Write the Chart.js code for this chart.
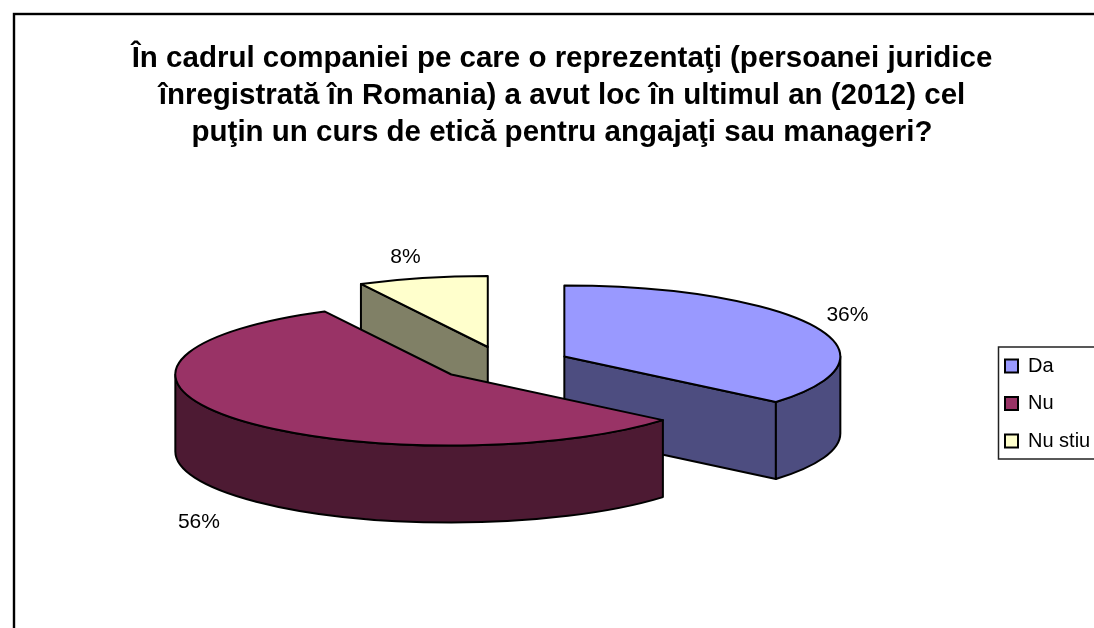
<!DOCTYPE html>
<html>
<head>
<meta charset="utf-8">
<style>html,body{margin:0;padding:0;background:#fff;overflow:hidden}canvas{display:block}</style>
<script src="https://cdn.jsdelivr.net/npm/chart.js@4"></script>
</head>
<body>
<canvas id="c" width="1094" height="628"></canvas>
<script>
const titleLines = [
  'În cadrul companiei pe care o reprezentaţi (persoanei juridice',
  'înregistrată în Romania) a avut loc în ultimul an (2012) cel',
  'puţin un curs de etică pentru angajaţi sau manageri?'
];
const categories = ['Da', 'Nu', 'Nu stiu'];
const shares = [36.1, 56.3, 7.6];
const topColors = ['#9999FF', '#993366', '#FFFFCC'];
const wallColors = ['#4D4D80', '#4D1A33', '#808066'];
const labelNudges = [[33, -11], [-37, 26], [-17, -21]];

const FONT = '"Liberation Sans", Arial, sans-serif';
const TILT = 71 / 276;     // vertical squash of the pie disc
const DEPTH = 77;          // extrusion height in px
const EXPLODE = 67;        // distance each slice is pulled out
const drawOrder = [2, 0, 1];

function geom(arc) {
  const p = arc.getProps(['x', 'y', 'startAngle', 'endAngle', 'outerRadius'], true);
  const mid = (p.startAngle + p.endAngle) / 2;
  const ox = p.x + Math.cos(mid) * EXPLODE;
  const oy = p.y + Math.sin(mid) * EXPLODE * TILT;
  return { x: p.x, y: p.y, a0: p.startAngle, a1: p.endAngle, r: p.outerRadius, mid, ox, oy };
}
function rim(g, a, dy) {
  return [g.ox + Math.cos(a) * g.r, g.oy + Math.sin(a) * g.r * TILT + (dy || 0)];
}
function drawWalls(ctx, g, color) {
  ctx.fillStyle = color;
  const face = (a) => {
    const p = rim(g, a);
    ctx.beginPath();
    ctx.moveTo(g.ox, g.oy);
    ctx.lineTo(p[0], p[1]);
    ctx.lineTo(p[0], p[1] + DEPTH);
    ctx.lineTo(g.ox, g.oy + DEPTH);
    ctx.closePath();
    ctx.fill();
    ctx.stroke();
  };
  const EPS = 1e-6;
  if (Math.cos(g.a0) < -EPS) face(g.a0);
  if (Math.cos(g.a1) > EPS) face(g.a1);
  // outer curved wall: the part of the rim on the near half of the disc
  const TAU = Math.PI * 2;
  for (const k of [-1, 0, 1]) {
    const from = Math.max(g.a0, k * TAU);
    const to = Math.min(g.a1, k * TAU + Math.PI);
    if (to <= from) continue;
    ctx.beginPath();
    ctx.ellipse(g.ox, g.oy, g.r, g.r * TILT, 0, from, to);
    ctx.ellipse(g.ox, g.oy + DEPTH, g.r, g.r * TILT, 0, to, from, true);
    ctx.closePath();
    ctx.fill();
    ctx.stroke();
  }
}

const pie3d = {
  id: 'pie3d',
  beforeDraw(chart) {
    const ctx = chart.ctx;
    ctx.save();
    ctx.fillStyle = '#fff';
    ctx.fillRect(0, 0, chart.width, chart.height);
    ctx.strokeStyle = '#000';
    ctx.lineWidth = 2.4;
    ctx.strokeRect(14, 14, chart.width + 40, chart.height + 40);
    ctx.strokeStyle = '#222';
    ctx.lineWidth = 1.5;
    ctx.strokeRect(998.5, 347, 200, 112);
    ctx.restore();
  },
  afterLayout(chart) {
    const l = chart.legend;
    const dy = 403.5 - (l.top + l.bottom) / 2;
    l.top += dy; l.bottom += dy;
    l.left = 1005 - l.options.labels.padding;
    l.right = chart.width;
    // keep the pie centred independently of the legend's measured width
    const area = chart.chartArea;
    area.right -= 4;
    area.width -= 4;
  },
  beforeDatasetDraw(chart, args) {
    const ctx = chart.ctx;
    const arcs = chart.getDatasetMeta(args.index).data;
    for (const i of drawOrder) {
      const g = geom(arcs[i]);
      ctx.save();
      ctx.strokeStyle = '#000';
      ctx.lineWidth = 2;
      ctx.lineJoin = 'round';
      drawWalls(ctx, g, wallColors[i]);
      // top face: the library's own arc element, squashed and pulled out
      ctx.save();
      ctx.translate(g.ox, g.oy);
      ctx.scale(1, TILT);
      ctx.translate(-g.x, -g.y);
      arcs[i].draw(ctx);
      ctx.restore();
      // outline of the top face with an even stroke width
      ctx.beginPath();
      ctx.moveTo(g.ox, g.oy);
      ctx.ellipse(g.ox, g.oy, g.r, g.r * TILT, 0, g.a0, g.a1);
      ctx.closePath();
      ctx.stroke();
      ctx.restore();
    }
    return false;
  },
  afterDraw(chart) {
    const ctx = chart.ctx;
    const arcs = chart.getDatasetMeta(0).data;
    const total = shares.reduce((a, b) => a + b, 0);
    ctx.save();
    ctx.font = '21px ' + FONT;
    ctx.fillStyle = '#000';
    ctx.textAlign = 'center';
    ctx.textBaseline = 'middle';
    arcs.forEach((arc, i) => {
      const g = geom(arc);
      const lower = Math.sin(g.mid) > 0 && i === 1;
      const p = rim(g, g.mid, lower ? DEPTH : 0);
      ctx.fillText(Math.round(shares[i] / total * 100) + '%', p[0] + labelNudges[i][0], p[1] + labelNudges[i][1]);
    });
    ctx.restore();
  }
};

new Chart(document.getElementById('c'), {
  type: 'pie',
  plugins: [pie3d],
  data: {
    labels: categories,
    datasets: [{
      data: shares,
      backgroundColor: topColors,
      borderWidth: 0,
      clip: false
    }]
  },
  options: {
    responsive: false,
    animation: false,
    devicePixelRatio: 1,
    radius: 276,
    layout: { padding: { left: 30, top: 40.5, right: 0, bottom: 52 } },
    plugins: {
      tooltip: { enabled: false },
      title: {
        display: true,
        text: titleLines,
        color: '#000',
        padding: 0,
        font: { family: FONT, size: 29.5, weight: 'bold', lineHeight: 1.254 }
      },
      legend: {
        display: true,
        position: 'right',
        labels: {
          color: '#000',
          boxWidth: 13,
          boxHeight: 13,
          padding: 17.5,
          font: { family: FONT, size: 20 },
          generateLabels(chart) {
            return Chart.overrides.pie.plugins.legend.labels.generateLabels(chart).map(it => {
              it.strokeStyle = '#000';
              it.lineWidth = 2;
              return it;
            });
          }
        }
      }
    }
  }
});
</script>
</body>
</html>
